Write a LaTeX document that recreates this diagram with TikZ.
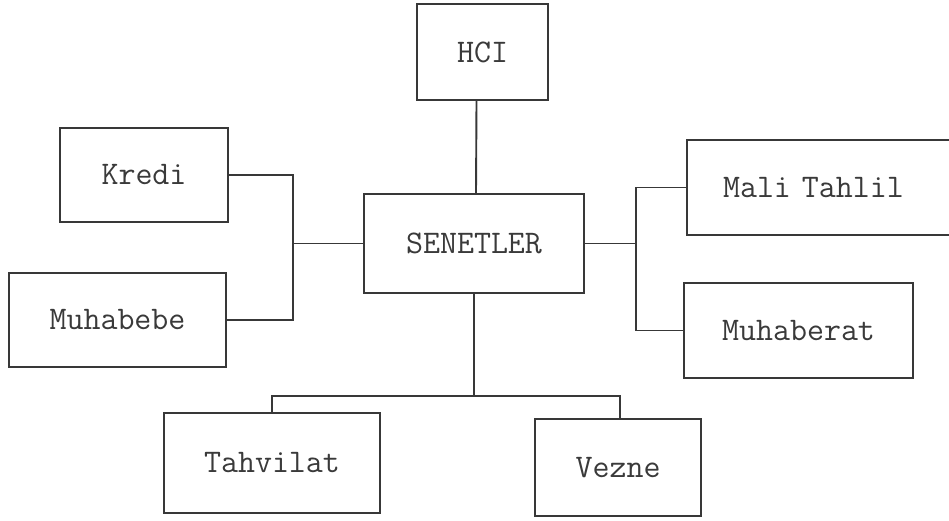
\documentclass[tikz,border=0pt]{standalone}
\usepackage{fontspec}
\begin{document}
\begin{tikzpicture}[x=1pt,y=-1pt,
  box/.style={draw=linec,line width=1.9pt,rectangle,inner sep=0pt,
    text=textc,font=\ttfamily\fontsize{33}{36}\selectfont},
  conn/.style={draw=linec,line width=1.9pt}]
\definecolor{linec}{HTML}{383838}
\definecolor{textc}{HTML}{3A3A3A}
\clip (0,0) rectangle (949,521);
\fill[white] (0,0) rectangle (949,521);
% boxes
\node[box,minimum width=131pt,minimum height=96pt] (hci) at (482.5,52) {HCI};
\node[box,minimum width=220pt,minimum height=99pt] (sen) at (474,243.5) {SENETLER};
\node[box,minimum width=168pt,minimum height=94pt] (kredi) at (144,175) {Kredi};
\node[box,minimum width=217pt,minimum height=94pt] (muhb) at (117.5,320) {Muhabebe};
\node[box,minimum width=283pt,minimum height=95pt,text width=283pt,align=left] (mali) at (828.5,187.5) {\hspace*{36pt}Mali Tahlil};
\node[box,minimum width=229pt,minimum height=95pt] (muhr) at (798.5,330.5) {Muhaberat};
\node[box,minimum width=216pt,minimum height=100pt] (tahv) at (272,463) {Tahvilat};
\node[box,minimum width=166pt,minimum height=97pt] (vez) at (618,467.5) {Vezne};
% junctions
\coordinate (lj) at (293,243.5);
\coordinate (rj) at (636,243.5);
\coordinate (bj) at (474,396);
% connectors
\draw[conn] ([xshift=-6pt]hci.south) -- ([xshift=2pt]sen.north);
\draw[conn] (kredi.east) -| (lj) |- (muhb.east);
\draw[conn] (lj) -- (sen.west);
\draw[conn] (mali.west) -| (rj) |- (muhr.west);
\draw[conn] (rj) -- (sen.east);
\draw[conn] (sen.south) -- (bj);
\draw[conn] (tahv.north) |- (bj) -| ([xshift=2pt]vez.north);
\end{tikzpicture}
\end{document}
